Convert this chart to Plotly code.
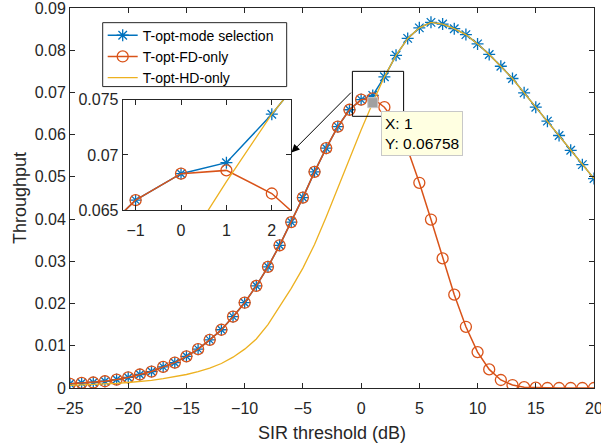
import plotly.graph_objects as go

# ---------------- data ----------------
sir_db = list(range(-25, 21))

fd_only = [0.0010, 0.0012, 0.0013, 0.0016, 0.0020, 0.0025, 0.0032, 0.0039, 0.0050, 0.0060,
           0.0075, 0.0092, 0.0114, 0.0138, 0.0169, 0.0202, 0.0242, 0.0287, 0.0338, 0.0393,
           0.0451, 0.0512, 0.0568, 0.0619, 0.0659, 0.0683, 0.0686, 0.0665, 0.0628, 0.0565,
           0.0486, 0.0399, 0.0307, 0.0221, 0.0145, 0.0085, 0.0044, 0.0019, 0.0007, 0.0002,
           0.0001, 0.0000, 0.0000, 0.0000, 0.0000, 0.0000]

hd_only = [0.0006, 0.0007, 0.0008, 0.0009, 0.0011, 0.0013, 0.0015, 0.0018, 0.0022, 0.0027,
           0.0032, 0.0039, 0.0047, 0.0058, 0.0073, 0.0092, 0.0116, 0.0150, 0.0192, 0.0236,
           0.0284, 0.0340, 0.0405, 0.0474, 0.0544, 0.0611, 0.06758, 0.0737, 0.0788, 0.0828,
           0.0853, 0.0866, 0.0862, 0.0851, 0.0837, 0.0815, 0.0790, 0.0762, 0.0733, 0.0699,
           0.0665, 0.0632, 0.0598, 0.0563, 0.0529, 0.0496]

mode_sel = fd_only[:26] + [0.0693] + hd_only[27:]

x_ticks = [-25, -20, -15, -10, -5, 0, 5, 10, 15, 20]
y_ticks = [0, 0.01, 0.02, 0.03, 0.04, 0.05, 0.06, 0.07, 0.08, 0.09]
y_ticktext = ["0", "0.01", "0.02", "0.03", "0.04", "0.05", "0.06", "0.07", "0.08", "0.09"]

inset_x_ticks = [-1, 0, 1, 2]
inset_y_ticks = [0.065, 0.07, 0.075]
inset_y_ticktext = ["0.065", "0.07", "0.075"]

tip_x = [1]
tip_y = [0.06758]

names = ["T-opt-mode selection", "T-opt-FD-only", "T-opt-HD-only"]

# ---------------- style ----------------
BLUE = "#0072BD"
ORANGE = "#D95319"
YELLOW = "#EDB120"
AX = "#262626"
FONT = "Liberation Sans, Arial, sans-serif"

fig = go.Figure()

for xa, ya, show in [("x", "y", True), ("x2", "y2", False)]:
    fig.add_trace(go.Scatter(
        x=sir_db, y=mode_sel, name=names[0], mode="lines+markers",
        line=dict(color=BLUE, width=1.5),
        marker=dict(symbol="asterisk-open", size=10, color=BLUE, line=dict(color=BLUE, width=1.3)),
        xaxis=xa, yaxis=ya, showlegend=show, cliponaxis=True))
    fig.add_trace(go.Scatter(
        x=sir_db, y=fd_only, name=names[1], mode="lines+markers",
        line=dict(color=ORANGE, width=1.5),
        marker=dict(symbol="circle-open", size=11, color=ORANGE, line=dict(color=ORANGE, width=1.3)),
        xaxis=xa, yaxis=ya, showlegend=show, cliponaxis=True))
    fig.add_trace(go.Scatter(
        x=sir_db, y=hd_only, name=names[2], mode="lines",
        line=dict(color=YELLOW, width=1.3),
        xaxis=xa, yaxis=ya, showlegend=show))

# data tip marker
fig.add_trace(go.Scatter(
    x=tip_x, y=tip_y, mode="markers", showlegend=False,
    marker=dict(symbol="square", size=10, color="#a0a0a0", line=dict(color="#c8c8c8", width=1)),
    xaxis="x", yaxis="y"))

axis_common = dict(
    showline=True, linecolor=AX, linewidth=1, mirror="ticks",
    ticks="inside", ticklen=5, tickcolor=AX, tickwidth=1,
    showgrid=False, zeroline=False, automargin=False,
    ticklabeloverflow="allow",
    tickfont=dict(family=FONT, size=16, color=AX),
)

fig.update_layout(
    width=601, height=446,
    margin=dict(l=70, r=7, t=8, b=58, autoexpand=False),
    paper_bgcolor="white", plot_bgcolor="white",
    font=dict(family=FONT, color=AX),
    xaxis=dict(range=[-25, 20], tickvals=x_ticks, domain=[0, 1], ticklabelstandoff=6,
               title=dict(text="SIR threshold (dB)", font=dict(size=18, color=AX), standoff=10),
               **axis_common),
    yaxis=dict(range=[0, 0.09], tickvals=y_ticks, ticktext=y_ticktext, domain=[0, 1],
               title=dict(text="Throughput", font=dict(size=18, color=AX), standoff=3),
               **axis_common),
    xaxis2=dict(range=[-1.284, 2.423], tickvals=inset_x_ticks, domain=[0.1006, 0.4218],
                anchor="y2", ticklabelstandoff=6, **axis_common),
    yaxis2=dict(range=[0.065, 0.075], tickvals=inset_y_ticks, ticktext=inset_y_ticktext,
                domain=[0.4683, 0.7582], anchor="x2", **axis_common),
    legend=dict(x=0.0624, y=0.9693, xanchor="left", yanchor="top",
                bgcolor="rgba(0,0,0,0)", borderwidth=0,
                font=dict(family=FONT, size=14, color="black")),
    showlegend=True,
)

# legend frame
fig.add_shape(type="rect", xref="paper", yref="paper", x0=0.0624, x1=0.4135, y0=0.7932, y1=0.9614,
              line=dict(color=AX, width=1), fillcolor="white", layer="above")

# zoom rectangle on main axes
fig.add_shape(type="rect", xref="x", yref="y", x0=-0.75, x1=3.65, y0=0.06435, y1=0.0750,
              line=dict(color="black", width=1))

# arrow from rectangle to inset
fig.add_annotation(x=-5.98, y=0.0558, ax=-0.75, ay=0.0703, xref="x", yref="y",
                   axref="x", ayref="y", showarrow=True, arrowhead=2, arrowsize=1.6,
                   arrowwidth=1, arrowcolor="black", standoff=0, text="")

# data tip box
fig.add_annotation(x=tip_x[0], y=tip_y[0], xref="x", yref="y", showarrow=False,
                   text="X: 1<br>Y: 0.06758", align="left",
                   xanchor="left", yanchor="top", xshift=8, yshift=-8,
                   font=dict(family=FONT, size=15.5, color="black"),
                   bgcolor="#ffffe1", bordercolor="#c8c8c8", borderwidth=1, borderpad=3)

fig.write_html("out.html", config={"displayModeBar": False},
               post_script="document.body.style.margin='0';document.body.style.overflow='hidden';")
